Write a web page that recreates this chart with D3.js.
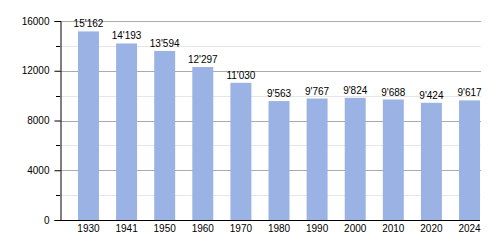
<!DOCTYPE html>
<html>
<head>
<meta charset="utf-8">
<script src="https://cdn.jsdelivr.net/npm/d3@7"></script>
<style>
  body { margin: 0; background: #fff; }
  svg text { font-family: "Liberation Sans", Arial, sans-serif; font-size: 10px; fill: #000; }
</style>
</head>
<body>
<div id="chart"></div>
<script>
const years = ["1930", "1941", "1950", "1960", "1970", "1980", "1990", "2000", "2010", "2020", "2024"];
const population = [15162, 14193, 13594, 12297, 11030, 9563, 9767, 9824, 9688, 9424, 9617];
const majorTicks = [0, 4000, 8000, 12000, 16000];
const minorTicks = [2000, 6000, 10000, 14000];

const width = 500, height = 250;
const axisLeft = 60, axisRight = 481, plotTop = 21, plotBottom = 220;

const svg = d3.select("#chart").append("svg")
  .attr("width", width)
  .attr("height", height);

let y = d3.scaleLinear().domain([0, 16000]).range([plotBottom, plotTop]);
let x = d3.scaleBand().domain(years).range([78, 480]).paddingInner(0.45).paddingOuter(0);

const fmt = d3.formatLocale({ decimal: ".", thousands: "'", grouping: [3], currency: ["", ""] }).format(",d");

// grid lines
svg.selectAll(".minor")
  .data(minorTicks)
  .join("line")
  .attr("x1", axisLeft).attr("x2", axisRight)
  .attr("y1", d => Math.round(y(d)) + 0.5).attr("y2", d => Math.round(y(d)) + 0.5)
  .attr("stroke", "#e6e6e6");

svg.selectAll(".major")
  .data(majorTicks.filter(d => d > 0))
  .join("line")
  .attr("x1", axisLeft).attr("x2", axisRight)
  .attr("y1", d => Math.round(y(d)) + 0.5).attr("y2", d => Math.round(y(d)) + 0.5)
  .attr("stroke", "#aaaaaa");

// bars
svg.selectAll("rect")
  .data(population)
  .join("rect")
  .attr("x", (d, i) => x(years[i]))
  .attr("y", d => y(d))
  .attr("width", x.bandwidth())
  .attr("height", d => plotBottom - y(d))
  .attr("fill", "#9bb2e4");

// value labels
svg.selectAll(".val")
  .data(population)
  .join("text")
  .attr("x", (d, i) => x(years[i]) + x.bandwidth() / 2)
  .attr("y", d => y(d) - 4)
  .attr("text-anchor", "middle")
  .text(d => fmt(d));

// y axis
const yAxis = d3.axisLeft(y).tickValues(majorTicks).tickSize(6).tickFormat(d3.format("d"));
const yG = svg.append("g").attr("transform", `translate(${axisLeft + 0.5},0)`).call(yAxis);
yG.select(".domain").attr("stroke", "#000");
yG.selectAll("text").attr("font-size", null).attr("font-family", null).attr("dx", "-2");
svg.selectAll(".minortick")
  .data(minorTicks)
  .join("line")
  .attr("x1", axisLeft - 4).attr("x2", axisLeft)
  .attr("y1", d => Math.round(y(d)) + 0.5).attr("y2", d => Math.round(y(d)) + 0.5)
  .attr("stroke", "#000");

// x axis
svg.append("line")
  .attr("x1", axisLeft).attr("x2", 480)
  .attr("y1", plotBottom + 0.5).attr("y2", plotBottom + 0.5)
  .attr("stroke", "#000");

svg.selectAll(".year")
  .data(years)
  .join("text")
  .attr("x", d => x(d) + x.bandwidth() / 2)
  .attr("y", 232)
  .attr("text-anchor", "middle")
  .text(d => d);
</script>
</body>
</html>
